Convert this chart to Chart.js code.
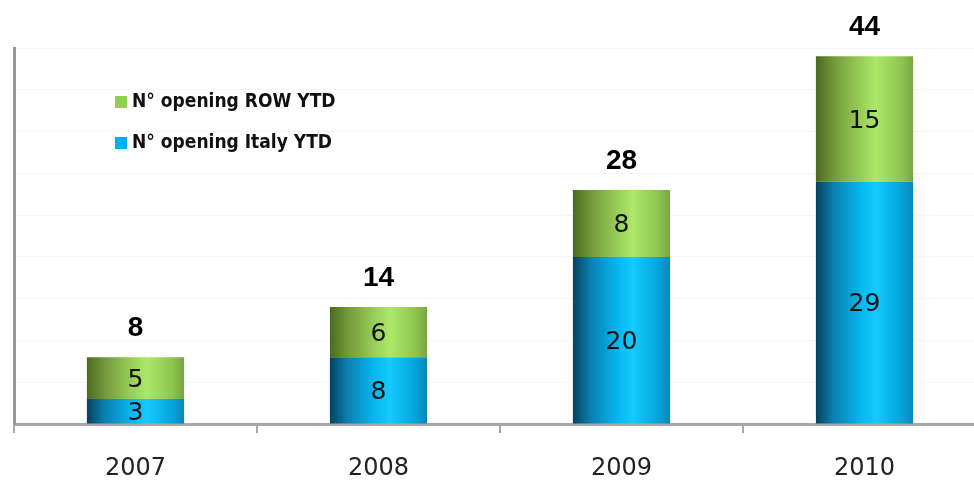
<!DOCTYPE html>
<html>
<head>
<meta charset="utf-8">
<script src="https://cdn.jsdelivr.net/npm/chart.js@4/dist/chart.umd.min.js"></script>
<style>
  html, body { margin: 0; padding: 0; background: #fff; overflow: hidden; }
  #wrap { width: 990px; height: 480px; position: relative; }
</style>
</head>
<body>
<div id="wrap"><canvas id="openings"></canvas></div>
<script>
// store openings per year, Italy vs rest of world
const years = ['2007', '2008', '2009', '2010'];
const italyOpenings = [3, 8, 20, 29];
const rowOpenings = [5, 6, 8, 15];
const totals = [8, 14, 28, 44];

const yMax = 45;
const yStep = 5;

// cylinder-ish shading across each bar
function barShade(stops, solid) {
  return function(c) {
    const chart = c.chart;
    if (!chart.chartArea || !chart.scales.x) return solid;
    const xs = chart.scales.x;
    const cx = xs.getPixelForValue(c.dataIndex);
    const w = xs.width / years.length * 0.4;
    const g = chart.ctx.createLinearGradient(cx - w / 2, 0, cx + w / 2, 0);
    stops.forEach(s => g.addColorStop(s[0], s[1]));
    return g;
  };
}

const blueStops = [[0, '#05425f'], [0.18, '#0a7fae'], [0.45, '#05b6ee'], [0.62, '#14caff'], [0.88, '#04a4dc'], [1, '#0a86b8']];
const greenStops = [[0, '#4b6a22'], [0.2, '#769c3c'], [0.45, '#98cc58'], [0.62, '#ace86a'], [0.88, '#90c450'], [1, '#78a442']];

// numbers inside the segments and totals above the stacks
const labelsPlugin = {
  id: 'barLabels',
  afterDatasetsDraw(chart) {
    const ctx = chart.ctx;
    ctx.save();
    ctx.textAlign = 'center';
    ctx.textBaseline = 'middle';
    ctx.fillStyle = '#111';
    ctx.font = '25px "DejaVu Sans"';
    chart.data.datasets.forEach((ds, di) => {
      chart.getDatasetMeta(di).data.forEach((el, i) => {
        ctx.fillText(String(ds.data[i]), el.x, (el.y + el.base) / 2 + 2);
      });
    });
    const topMeta = chart.getDatasetMeta(chart.data.datasets.length - 1);
    ctx.font = 'bold 28px "Liberation Sans", Arial';
    ctx.fillStyle = '#000';
    topMeta.data.forEach((el, i) => {
      ctx.fillText(String(totals[i]), el.x, el.y - 29);
    });
    ctx.restore();
  }
};

// legend sitting inside the plot, top series first
const innerLegend = {
  id: 'innerLegend',
  afterDraw(chart) {
    const ctx = chart.ctx;
    const items = chart.data.datasets.slice().reverse();
    ctx.save();
    ctx.textBaseline = 'middle';
    ctx.font = 'bold 19px "DejaVu Sans Condensed", "DejaVu Sans"';
    items.forEach((ds, i) => {
      const y = 102 + i * 41;
      ctx.fillStyle = ds.legendColor;
      ctx.fillRect(115, y - 6, 12, 12);
      ctx.fillStyle = '#111';
      ctx.fillText(ds.label, 132, y);
    });
    ctx.restore();
  }
};

new Chart(document.getElementById('openings'), {
  type: 'bar',
  data: {
    labels: years,
    datasets: [
      {
        label: 'N° opening Italy YTD',
        data: italyOpenings,
        legendColor: '#00b0f0',
        backgroundColor: barShade(blueStops, '#00b0f0'),
        borderWidth: 0,
        barPercentage: 0.4,
        categoryPercentage: 1
      },
      {
        label: 'N° opening ROW YTD',
        data: rowOpenings,
        legendColor: '#92d050',
        backgroundColor: barShade(greenStops, '#92d050'),
        borderWidth: 0,
        barPercentage: 0.4,
        categoryPercentage: 1
      }
    ]
  },
  options: {
    responsive: true,
    maintainAspectRatio: false,
    animation: false,
    layout: { padding: { top: 48, left: 14, right: 4, bottom: 0 } },
    plugins: {
      legend: { display: false },
      tooltip: { enabled: false }
    },
    scales: {
      x: {
        stacked: true,
        afterFit: s => { s.height = 56; },
        border: { color: '#a6a6a6', width: 3 },
        grid: { drawOnChartArea: false, drawTicks: true, tickLength: 9, color: '#a6a6a6', lineWidth: 2 },
        ticks: { color: '#222', padding: 21, font: { family: 'DejaVu Sans', size: 24 } }
      },
      y: {
        stacked: true,
        min: 0,
        max: yMax,
        afterFit: s => { s.width = 0; },
        border: { color: '#9a9a9a', width: 3 },
        grid: { color: '#f5f5f5', lineWidth: 1, drawTicks: false },
        ticks: { display: false, stepSize: yStep }
      }
    }
  },
  plugins: [labelsPlugin, innerLegend]
});
</script>
</body>
</html>
